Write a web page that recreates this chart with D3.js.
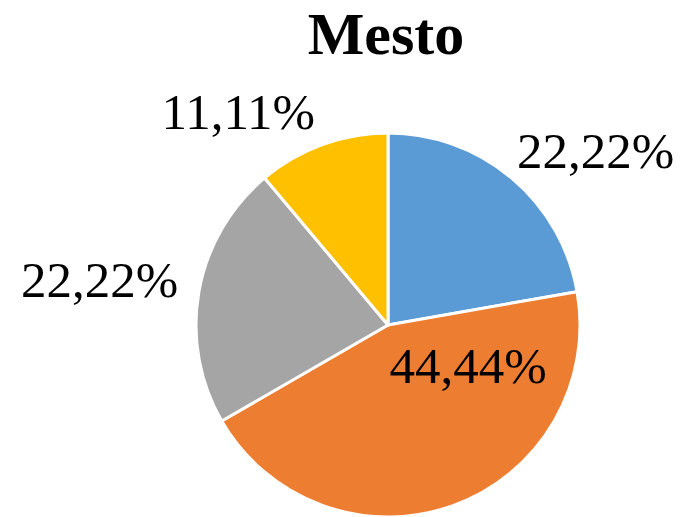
<!DOCTYPE html>
<html>
<head>
<meta charset="utf-8">
<script src="https://cdnjs.cloudflare.com/ajax/libs/d3/7.8.5/d3.min.js"></script>
<style>
  body { margin: 0; background: #fff; }
  text { font-family: "Liberation Serif", "Times New Roman", serif; }
</style>
</head>
<body>
<script>
var categories = ["A", "B", "C", "D"];
var values = [22.22, 44.44, 22.22, 11.11];
var labels = ["22,22%", "44,44%", "22,22%", "11,11%"];
var colors = ["#5B9BD5", "#ED7D31", "#A5A5A5", "#FFC000"];

// label placement (angle in degrees from top, distance from centre)
var labelAngle = [50, 117, 279, 325];
var labelDist = [271, 90, 292, 261];

var width = 685, height = 517,
    cx = 388, cy = 325, radius = 192;

var svg = d3.select("body").append("svg")
    .attr("width", width)
    .attr("height", height);

svg.append("text")
    .attr("x", 386)
    .attr("y", 54)
    .style("text-anchor", "middle")
    .style("font-weight", "bold")
    .style("font-size", "60px")
    .text("Mesto");

var pie = d3.pie().sort(null).value(d => d);
var arc = d3.arc().innerRadius(0).outerRadius(radius);

var g = svg.append("g")
    .attr("transform", "translate(" + cx + "," + cy + ")");

var arcs = pie(values);

g.selectAll(".slice")
    .data(arcs)
    .enter()
    .append("path")
    .attr("class", "slice")
    .attr("d", arc)
    .style("fill", (d, i) => colors[i])
    .style("stroke", "#fff")
    .style("stroke-width", 3)
    .style("stroke-linejoin", "round");

g.selectAll(".lbl")
    .data(arcs)
    .enter()
    .append("text")
    .attr("class", "lbl")
    .attr("x", (d, i) => labelDist[i] * Math.sin(labelAngle[i] * Math.PI / 180))
    .attr("y", (d, i) => -labelDist[i] * Math.cos(labelAngle[i] * Math.PI / 180))
    .attr("dy", "0.34em")
    .style("text-anchor", "middle")
    .style("font-size", "51px")
    .style("fill", "#000")
    .text((d, i) => labels[i]);
</script>
</body>
</html>
